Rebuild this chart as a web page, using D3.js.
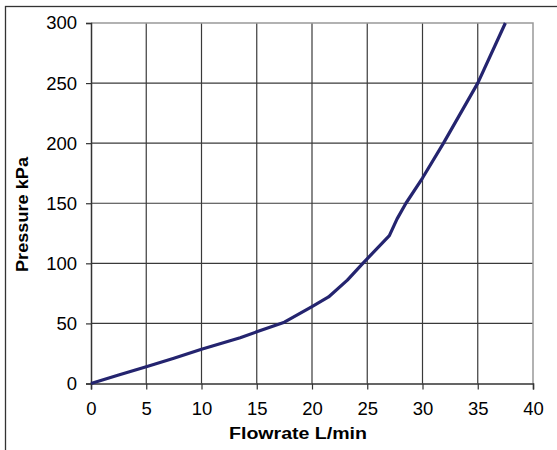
<!DOCTYPE html>
<html>
<head>
<meta charset="utf-8">
<script src="https://cdn.jsdelivr.net/npm/d3@7"></script>
<style>
  body { margin: 0; background: #fff; }
  text { font-family: "Liberation Sans", Arial, sans-serif; fill: #000; }
</style>
</head>
<body>
<svg id="canvas" width="557" height="450"></svg>
<script>
// flow (L/min) vs pressure (kPa)
let flowrate = [0, 2.5, 5, 7.5, 10, 13.5, 15, 17.5, 20, 21.5, 23.2, 24.6, 27, 27.7, 28.5, 30, 31.9, 35, 37.5];
let pressure = [0, 7, 14, 21, 28.5, 38, 43, 51, 64, 72, 86, 100, 123, 137, 150, 171, 200, 250, 300];
let xTicks = [0, 5, 10, 15, 20, 25, 30, 35, 40];
let yTicks = [0, 50, 100, 150, 200, 250, 300];

let svg = d3.select('#canvas');
let plotLeft = 91, plotRight = 533, plotTop = 23, plotBottom = 383.5;

let x = d3.scaleLinear().domain([0, 40]).range([plotLeft, plotRight]);
let y = d3.scaleLinear().domain([0, 300]).range([plotBottom, plotTop]);

// outer chart frame (only top/left visible)
svg.append('rect')
  .attr('x', 5.5).attr('y', 6.5)
  .attr('width', 700).attr('height', 600)
  .attr('fill', 'none').attr('stroke', '#333').attr('stroke-width', 1.3);

// grid
svg.append('g').selectAll('line')
  .data(xTicks.filter(d => d > 0 && d < 40))
  .enter().append('line')
  .attr('x1', d => x(d)).attr('x2', d => x(d))
  .attr('y1', plotTop).attr('y2', plotBottom)
  .attr('stroke', '#3a3a3a').attr('stroke-width', 1.2);

svg.append('g').selectAll('line')
  .data(yTicks.filter(d => d > 0 && d < 300))
  .enter().append('line')
  .attr('x1', plotLeft).attr('x2', plotRight)
  .attr('y1', d => y(d)).attr('y2', d => y(d))
  .attr('stroke', '#3a3a3a').attr('stroke-width', 1.2);

// top / right plot border
svg.append('path')
  .attr('d', `M${plotLeft},${plotTop}H${plotRight}V${plotBottom}`)
  .attr('fill', 'none').attr('stroke', '#999').attr('stroke-width', 1.5);

// axes
let xAxis = svg.append('g')
  .attr('transform', `translate(0,${plotBottom})`)
  .call(d3.axisBottom(x).tickValues(xTicks).tickSize(6).tickPadding(12));
let yAxis = svg.append('g')
  .attr('transform', `translate(${plotLeft},0)`)
  .call(d3.axisLeft(y).tickValues(yTicks).tickSize(5).tickPadding(9));

[xAxis, yAxis].forEach(g => {
  g.select('.domain').attr('stroke', '#333').attr('stroke-width', 1.5);
  g.selectAll('.tick line').attr('stroke', '#333').attr('stroke-width', 1.2);
  g.selectAll('.tick text')
    .attr('font-family', '"Liberation Sans", Arial, sans-serif')
    .attr('font-size', 18.5).attr('fill', '#000');
});

// curve
let line = d3.line()
  .x((d, i) => x(flowrate[i]))
  .y(d => y(d));

svg.append('path')
  .datum(pressure)
  .attr('d', line)
  .attr('fill', 'none')
  .attr('stroke', '#24246f')
  .attr('stroke-width', 3.2)
  .attr('stroke-linejoin', 'round');

// titles
svg.append('text')
  .attr('x', 298).attr('y', 439)
  .attr('text-anchor', 'middle')
  .attr('font-weight', 'bold').attr('font-size', 16)
  .attr('textLength', 138).attr('lengthAdjust', 'spacingAndGlyphs')
  .text('Flowrate L/min');

svg.append('text')
  .attr('transform', 'translate(28,214.5) rotate(-90)')
  .attr('text-anchor', 'middle')
  .attr('font-weight', 'bold').attr('font-size', 17)
  .attr('textLength', 115).attr('lengthAdjust', 'spacingAndGlyphs')
  .text('Pressure kPa');
</script>
</body>
</html>
